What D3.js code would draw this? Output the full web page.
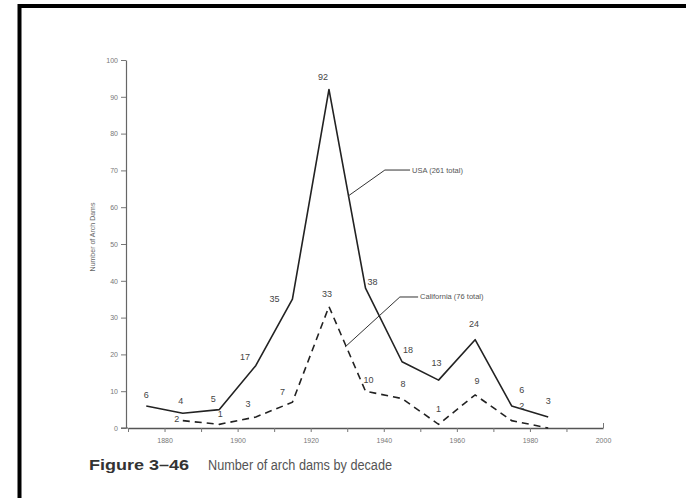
<!DOCTYPE html>
<html>
<head>
<meta charset="utf-8">
<script src="https://cdn.jsdelivr.net/npm/d3@7"></script>
<style>
  body { margin: 0; background: #fff; }
  svg { display: block; font-family: "Liberation Sans", Arial, sans-serif; }
</style>
</head>
<body>
<div id="chart"></div>
<script>
// values (mid-decade points)
var usaYears = [1875, 1885, 1895, 1905, 1915, 1925, 1935, 1945, 1955, 1965, 1975, 1985];
var usaCounts = [6, 4, 5, 17, 35, 92, 38, 18, 13, 24, 6, 3];
var caYears = [1885, 1895, 1905, 1915, 1925, 1935, 1945, 1955, 1965, 1975, 1985];
var caCounts = [2, 1, 3, 7, 33, 10, 8, 1, 9, 2, 0];
var yTicks = [0, 10, 20, 30, 40, 50, 60, 70, 80, 90, 100];
var xTicks = [1870, 1880, 1890, 1900, 1910, 1920, 1930, 1940, 1950, 1960, 1970, 1980, 1990, 2000];
var xLabels = [1880, 1900, 1920, 1940, 1960, 1980, 2000];

// label offsets (dx, dy) next to each point, as placed in the figure
var usaLabelOff = [[0,-8],[-2,-9],[-6,-8],[-11,-5],[-18,3],[-6,-9],[7,-3],[6,-9],[-2,-14],[-1,-13],[10,-13],[0,-13]];
var caLabelOff = [[-6,1],[1,-7],[-8,-10],[-10,-7],[-2,-10],[3,-8],[1,-12],[0,-12],[2,-11],[10,-12],[0,0]];

var width = 686, height = 498;

var svg = d3.select("#chart").append("svg")
    .attr("width", width)
    .attr("height", height);

svg.append("rect").attr("width", width).attr("height", height).attr("fill", "#fff");

// frame of the scanned page
svg.append("path")
    .attr("d", "M19.5," + height + "V6H" + width)
    .attr("fill", "none")
    .attr("stroke", "#000")
    .attr("stroke-width", 4);

var x = d3.scaleLinear().domain([1870, 2000]).range([128, 603]);
var y = d3.scaleLinear().domain([0, 100]).range([428, 60]);

// y axis
var yAxis = svg.append("g")
    .attr("transform", "translate(126,0)")
    .call(d3.axisLeft(y).tickValues(yTicks).tickSize(5).tickSizeOuter(0).tickPadding(3));
yAxis.select(".domain").attr("stroke", "#666").attr("stroke-width", 1.2);
yAxis.selectAll(".tick line").attr("stroke", "#777");
yAxis.selectAll(".tick text").attr("fill", "#777").style("font-size", "7px");

// x axis
var xAxis = svg.append("g")
    .attr("transform", "translate(0,428)")
    .call(d3.axisBottom(x).tickValues(xTicks).tickSize(4).tickSizeOuter(0).tickPadding(6)
      .tickFormat(function(d) { return xLabels.indexOf(d) >= 0 ? d : ""; }));
xAxis.select(".domain").attr("stroke", "#555").attr("stroke-width", 1.6);
xAxis.selectAll(".tick line").attr("stroke", "#777");
xAxis.selectAll(".tick text").attr("fill", "#777").style("font-size", "7px");
xAxis.selectAll(".tick").filter(function(d) { return d == 2000; }).select("line")
    .attr("y2", -5);
xAxis.append("line")
    .attr("x1", 121).attr("x2", 128)
    .attr("stroke", "#666").attr("stroke-width", 1.2);

// y axis title
svg.append("text")
    .attr("transform", "translate(95,237) rotate(-90)")
    .attr("text-anchor", "middle")
    .attr("fill", "#666")
    .style("font-size", "7px")
    .text("Number of Arch Dams");

var line = d3.line()
    .x(function(d) { return x(d[0]); })
    .y(function(d) { return y(d[1]); });

var usa = d3.zip(usaYears, usaCounts);
var ca = d3.zip(caYears, caCounts);

svg.append("path")
    .datum(usa)
    .attr("d", line)
    .attr("fill", "none")
    .attr("stroke", "#222")
    .attr("stroke-width", 1.6)
    .attr("stroke-linejoin", "round");

svg.append("path")
    .datum(ca)
    .attr("d", line)
    .attr("fill", "none")
    .attr("stroke", "#222")
    .attr("stroke-width", 1.6)
    .attr("stroke-dasharray", "7,5");

function pointLabels(data, offs) {
  svg.append("g").selectAll("text")
    .data(data.filter(function(d) { return d[1] > 0; }))
    .enter().append("text")
      .attr("x", function(d, i) { return x(d[0]) + offs[i][0]; })
      .attr("y", function(d, i) { return y(d[1]) + offs[i][1]; })
      .attr("text-anchor", "middle")
      .attr("fill", "#444")
      .style("font-size", "9px")
      .text(function(d) { return d[1]; });
}
pointLabels(usa, usaLabelOff);
pointLabels(ca, caLabelOff);

// callouts
function callout(pts, label) {
  svg.append("path")
    .datum(pts)
    .attr("d", line)
    .attr("fill", "none")
    .attr("stroke", "#333")
    .attr("stroke-width", 1);
  var last = pts[pts.length - 1];
  svg.append("text")
    .attr("x", x(last[0]) + 2)
    .attr("y", y(last[1]) + 2.5)
    .attr("fill", "#555")
    .style("font-size", "7.5px")
    .text(label);
}
callout([[1930.2, 63], [1940.3, 70.1], [1947.2, 70.1]], "USA (261 total)");
callout([[1929.4, 22], [1944.4, 35.6], [1949.4, 35.6]], "California (76 total)");

// caption
var cap = svg.append("text")
    .attr("y", 470)
    .style("font-size", "14px");
cap.append("tspan")
    .attr("x", 89)
    .attr("font-weight", "bold")
    .attr("fill", "#333")
    .attr("textLength", 100)
    .attr("lengthAdjust", "spacingAndGlyphs")
    .text("Figure 3\u201346");
cap.append("tspan")
    .attr("x", 208)
    .attr("fill", "#555")
    .attr("textLength", 184)
    .attr("lengthAdjust", "spacingAndGlyphs")
    .text("Number of arch dams by decade");
</script>
</body>
</html>
